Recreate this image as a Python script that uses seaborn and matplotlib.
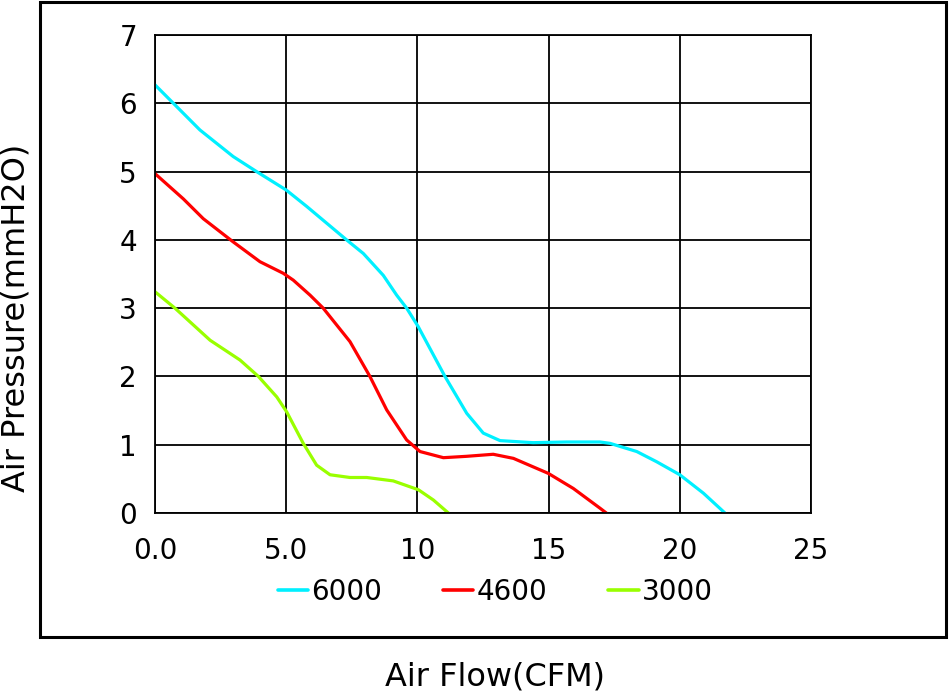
import matplotlib as mpl
mpl.use("Agg")

import matplotlib.pyplot as plt
import matplotlib.patches as mpatches
import seaborn as sns
import pandas as pd

sns.set_style("white")
plt.rcParams["font.family"] = ["DejaVu Sans"]
plt.rcParams.update({
    "text.color": "black",
    "axes.labelcolor": "black",
    "xtick.color": "black",
    "ytick.color": "black",
})

# fan curves, values
flow_6000 = [0.0, 0.70, 1.71, 2.98, 3.87, 5.0, 5.78, 7.3, 7.94, 8.70, 9.21, 9.59, 10.03,
             11.05, 11.88, 12.51, 13.15, 14.41, 15.68, 16.96, 17.34, 18.36, 19.12, 20.0,
             20.9, 21.72]
pres_6000 = [6.27, 6.0, 5.61, 5.22, 5.0, 4.73, 4.49, 4.0, 3.80, 3.48, 3.19, 3.0, 2.73,
             2.0, 1.46, 1.17, 1.06, 1.03, 1.04, 1.04, 1.02, 0.90, 0.75, 0.56,
             0.29, 0.0]

flow_4600 = [0.0, 1.08, 1.84, 2.98, 4.0, 4.89, 5.27, 5.91, 6.41, 7.43, 8.19, 8.83, 9.59,
             10.1, 10.99, 11.87, 12.89, 13.66, 14.99, 15.94, 16.96, 17.2]
pres_4600 = [4.97, 4.60, 4.31, 3.97, 3.68, 3.51, 3.41, 3.19, 3.0, 2.51, 2.0, 1.51, 1.07,
             0.90, 0.81, 0.83, 0.86, 0.80, 0.58, 0.36, 0.07, 0.0]

flow_3000 = [0.0, 0.76, 2.10, 3.24, 3.94, 4.64, 5.02, 5.65, 6.16, 6.67, 7.43, 8.07, 9.08,
             10.04, 10.61, 11.18]
pres_3000 = [3.24, 3.0, 2.53, 2.24, 2.0, 1.70, 1.48, 1.02, 0.70, 0.56, 0.52, 0.52, 0.47,
             0.34, 0.19, 0.0]

speeds = ["6000", "4600", "3000"]
colors = ["#00F0FF", "#FF0000", "#99FF00"]
x_ticks = [0, 5, 10, 15, 20, 25]
x_tick_labels = ["0.0", "5.0", "10", "15", "20", "25"]
y_ticks = [0, 1, 2, 3, 4, 5, 6, 7]

curves_df = pd.concat([
    pd.DataFrame({"flow": flow_6000, "pressure": pres_6000, "speed": "6000"}),
    pd.DataFrame({"flow": flow_4600, "pressure": pres_4600, "speed": "4600"}),
    pd.DataFrame({"flow": flow_3000, "pressure": pres_3000, "speed": "3000"}),
])

fig = plt.figure(figsize=(9.49, 6.94), dpi=100)
ax = fig.add_axes([155 / 949, 1 - 513 / 694, 656 / 949, 478 / 694])

ax = sns.lineplot(
    ax=ax,
    x="flow",
    y="pressure",
    hue="speed",
    hue_order=speeds,
    palette=dict(zip(speeds, colors)),
    data=curves_df,
    sort=False,
    linewidth=2.3,
    legend=False,
)

ax.set_xlim(0, 25)
ax.set_ylim(0, 7)
ax.set_xticks(x_ticks)
ax.set_xticklabels(x_tick_labels)
ax.set_yticks(y_ticks)
ax.tick_params(axis="x", length=0, pad=17, labelsize=20)
ax.tick_params(axis="y", length=0, pad=13, labelsize=20)
ax.grid(True, color="black", linewidth=1.3)
ax.set_axisbelow(True)
for spine in ax.spines.values():
    spine.set_color("black")
    spine.set_linewidth(1.3)
ax.set_xlabel("")
ax.set_ylabel("")

# outer frame around plot and legend
frame = mpatches.Rectangle((40 / 949, 1 - 637 / 694), 906 / 949, 635 / 694,
                           transform=fig.transFigure, fill=False,
                           edgecolor="black", linewidth=2.2)
fig.patches.append(frame)

handles = [plt.Line2D([], [], color=c, linewidth=2.6) for c in colors]
fig.legend(handles, speeds, loc="center", bbox_to_anchor=(495 / 949, 1 - 592 / 694),
           ncol=3, frameon=False, fontsize=20, handlelength=1.1, handletextpad=0.1,
           columnspacing=2.2)

fig.text(495 / 949, 1 - 677 / 694, "Air Flow(CFM)", ha="center", va="center", fontsize=23)
fig.text(16 / 949, 1 - 318 / 694, "Air Pressure(mmH2O)", ha="center", va="center",
         rotation=90, fontsize=23)

fig.savefig("out.png", dpi=100)
